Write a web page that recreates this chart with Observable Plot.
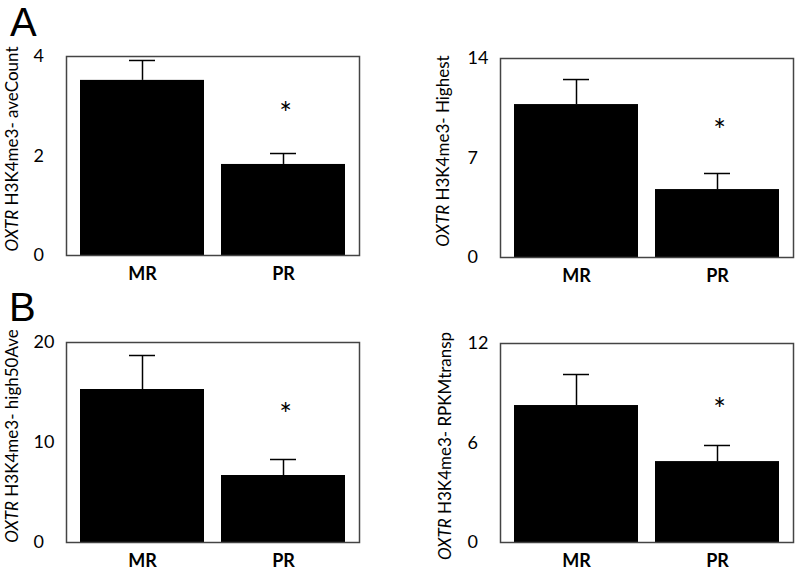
<!DOCTYPE html>
<html><head><meta charset="utf-8">
<script src="https://cdn.jsdelivr.net/npm/d3@7"></script>
<script src="https://cdn.jsdelivr.net/npm/@observablehq/plot@0.6"></script>
<style>
body{margin:0;background:#fff}
#wrap{position:relative;width:796px;height:572px;overflow:hidden;font-family:Lato,sans-serif}
.panel{position:absolute}
.letter{position:absolute;font-family:"Liberation Sans",Arial,sans-serif;font-size:40px;line-height:1}
</style></head><body><div id="wrap"></div>
<script>
const groups = ["MR", "PR"];

const aveCountMean = [3.52, 1.83];
const aveCountSem = [0.40, 0.22];
const aveCountStar = [null, 2.97];
const aveCountTicks = [0, 2, 4];

const highestMean = [10.76, 4.78];
const highestSem = [1.76, 1.13];
const highestStar = [null, 9.36];
const highestTicks = [0, 7, 14];

const high50Mean = [15.3, 6.7];
const high50Sem = [3.4, 1.6];
const high50Star = [null, 13.4];
const high50Ticks = [0, 10, 20];

const rpkmMean = [8.26, 4.88];
const rpkmSem = [1.87, 0.97];
const rpkmStar = [null, 8.38];
const rpkmTicks = [0, 6, 12];

const panels = [
  {means: aveCountMean, sems: aveCountSem, stars: aveCountStar, ticks: aveCountTicks, label: " H3K4me3- aveCount",
   left: 0, top: 0, mt: 56, mb: 31, ml: 66, mr: 39, lx: 17.5, ly: 149},
  {means: highestMean, sems: highestSem, stars: highestStar, ticks: highestTicks, label: " H3K4me3- Highest",
   left: 398, top: 0, mt: 58, mb: 29, ml: 102, mr: 3, lx: 51, ly: 151},
  {means: high50Mean, sems: high50Sem, stars: high50Star, ticks: high50Ticks, label: " H3K4me3- high50Ave",
   left: 0, top: 286, mt: 56, mb: 30, ml: 66, mr: 39, lx: 17.5, ly: 150},
  {means: rpkmMean, sems: rpkmSem, stars: rpkmStar, ticks: rpkmTicks, label: " H3K4me3- RPKMtransp",
   left: 398, top: 286, mt: 57, mb: 30, ml: 102, mr: 3, lx: 53, ly: 160}
];

const wrap = document.getElementById("wrap");

for (const p of panels) {
  const data = groups.map((g, i) => ({g, mean: p.means[i], top: p.means[i] + p.sems[i], star: p.stars[i]}));
  const ymax = p.ticks[p.ticks.length - 1];
  const chart = Plot.plot({
    width: 398, height: 286,
    marginTop: p.mt, marginBottom: p.mb, marginLeft: p.ml, marginRight: p.mr,
    style: {fontFamily: "Lato, sans-serif", color: "#000", background: "transparent", overflow: "visible"},
    x: {domain: groups, paddingInner: 0.124, paddingOuter: 0.097, label: null},
    y: {domain: [0, ymax], label: null},
    marks: [
      Plot.axisY({ticks: p.ticks, tickFormat: d => String(d), tickSize: 0, tickPadding: 33, textAnchor: "start", fontSize: 18, label: null}),
      Plot.axisX({tickSize: 0, tickPadding: 12, fontSize: 18, fontWeight: "bold", label: null}),
      Plot.ruleX(data, {x: "g", y1: "mean", y2: "top", stroke: "#000", strokeWidth: 1.5}),
      Plot.barY(data, {x: "g", y: "mean", fill: "#000"}),
      Plot.tickY(data, {x: "g", y: "top", insetLeft: 49, insetRight: 49, stroke: "#000", strokeWidth: 1.5}),
      Plot.text(data.filter(d => d.star != null), {x: "g", y: "star", text: () => "*", fontSize: 30, lineAnchor: "middle", dy: 7, dx: 2}),
      Plot.frame({stroke: "#444", strokeWidth: 1.5})
    ]
  });
  const div = document.createElement("div");
  div.className = "panel";
  div.style.left = p.left + "px";
  div.style.top = p.top + "px";
  div.appendChild(chart);
  wrap.appendChild(div);
  const svg = d3.select(chart);
  const t = svg.append("text")
    .attr("transform", `translate(${p.lx},${p.ly}) rotate(-90)`)
    .attr("text-anchor", "middle")
    .attr("font-size", 17)
    .attr("font-family", "Lato, sans-serif")
    .attr("fill", "#000");
  t.append("tspan").attr("font-style", "italic").text("OXTR");
  t.append("tspan").text(p.label);
}

for (const [txt, l, t] of [["A", 10, 2], ["B", 9, 287]]) {
  const d = document.createElement("div");
  d.className = "letter";
  d.style.left = l + "px";
  d.style.top = t + "px";
  d.textContent = txt;
  wrap.appendChild(d);
}
</script>
</body></html>
